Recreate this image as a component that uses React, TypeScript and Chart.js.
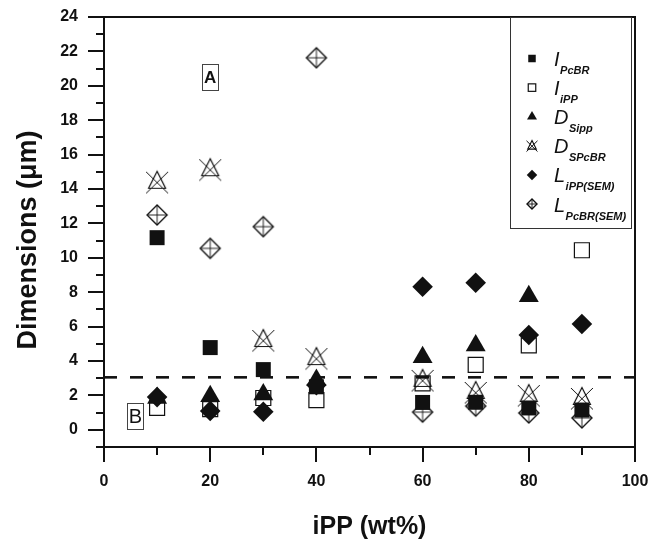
import React, { useEffect, useRef } from 'react';
import { Chart, registerables } from 'chart.js';

Chart.register(...registerables);

// ---------------- data ----------------
const xValues = [10, 20, 30, 40, 60, 70, 80, 90];
const iPcBR = [11.17, 4.78, 3.5, 2.5, 1.59, 1.6, 1.27, 1.15];
const iIPP = [1.27, 1.2, 1.85, 1.73, 2.7, 3.78, 4.91, 10.44];
const dSipp = [1.85, 1.95, 2.05, 2.9, 4.22, 4.9, 7.76, null];
const dSPcBR = [14.42, 15.15, 5.22, 4.17, 2.9, 2.2, 2.02, 1.85];
const lIPPSEM = [1.9, 1.1, 1.05, 2.6, 8.32, 8.55, 5.51, 6.15];
const lPcBRSEM = [12.49, 10.55, 11.81, 21.63, 1.03, 1.38, 0.98, 0.69];

const thresholdX = [0, 100];
const thresholdY = [3.05, 3.05];

const xTickLabels = [0, 20, 40, 60, 80, 100];
const yTickLabels = [0, 2, 4, 6, 8, 10, 12, 14, 16, 18, 20, 22, 24];

const legendMain = ['I', 'I', 'D', 'D', 'L', 'L'];
const legendSub = ['PcBR', 'iPP', 'Sipp', 'SPcBR', 'iPP(SEM)', 'PcBR(SEM)'];
const legendKinds = ['sqFill', 'sqOpen', 'triFill', 'triCross', 'diaFill', 'diaCross'];

const boxLabels = ['A', 'B'];
const boxX = [20, 5.9];
const boxY = [20.5, 0.8];

const yTitle = 'Dimensions (\u03bcm)';
const xTitle = 'iPP (wt%)';

const INK = '#111111';
const FONT = "'Liberation Sans', Arial, sans-serif";

function pts(ys: (number | null)[]) {
  return xValues.map((x, i) => ({ x, y: ys[i] as number })).filter((p) => p.y !== null);
}

function drawMarker(ctx: CanvasRenderingContext2D, kind: string, x: number, y: number, s: number) {
  ctx.save();
  ctx.strokeStyle = INK;
  ctx.fillStyle = INK;
  ctx.lineJoin = 'miter';
  ctx.beginPath();
  if (kind === 'sqFill') {
    ctx.fillRect(x - 7.5 * s, y - 7.5 * s, 15 * s, 15 * s);
  } else if (kind === 'sqOpen') {
    ctx.lineWidth = 1.2;
    ctx.strokeRect(x - 7.5 * s, y - 7.5 * s, 15 * s, 15 * s);
  } else if (kind === 'triFill') {
    ctx.moveTo(x, y - 11.5 * s);
    ctx.lineTo(x + 10 * s, y + 5.8 * s);
    ctx.lineTo(x - 10 * s, y + 5.8 * s);
    ctx.closePath();
    ctx.fill();
  } else if (kind === 'triCross') {
    ctx.lineWidth = 1.2;
    ctx.moveTo(x, y - 10.5 * s);
    ctx.lineTo(x + 8.5 * s, y + 6.5 * s);
    ctx.lineTo(x - 8.5 * s, y + 6.5 * s);
    ctx.closePath();
    ctx.stroke();
    ctx.beginPath();
    ctx.lineWidth = 1;
    ctx.moveTo(x - 11 * s, y - 10 * s);
    ctx.lineTo(x + 11 * s, y + 11.5 * s);
    ctx.moveTo(x + 11 * s, y - 10 * s);
    ctx.lineTo(x - 11 * s, y + 11.5 * s);
    ctx.stroke();
  } else if (kind === 'diaFill') {
    ctx.moveTo(x, y - 10.5 * s);
    ctx.lineTo(x + 10.5 * s, y);
    ctx.lineTo(x, y + 10.5 * s);
    ctx.lineTo(x - 10.5 * s, y);
    ctx.closePath();
    ctx.fill();
  } else if (kind === 'diaCross') {
    ctx.lineWidth = 1.4;
    ctx.moveTo(x, y - 10 * s);
    ctx.lineTo(x + 10 * s, y);
    ctx.lineTo(x, y + 10 * s);
    ctx.lineTo(x - 10 * s, y);
    ctx.closePath();
    ctx.stroke();
    ctx.beginPath();
    ctx.lineWidth = 0.9;
    ctx.moveTo(x, y - 10 * s);
    ctx.lineTo(x, y + 10 * s);
    ctx.moveTo(x - 10 * s, y);
    ctx.lineTo(x + 10 * s, y);
    ctx.stroke();
  }
  ctx.restore();
}

function markerCanvas(kind: string) {
  const c = document.createElement('canvas');
  c.width = 28;
  c.height = 28;
  const ctx = c.getContext('2d')!;
  drawMarker(ctx, kind, 14, 14, 1);
  return c;
}

const decorPlugin = {
  id: 'decor',
  afterDraw(chart: any) {
    const { ctx, chartArea: a, scales } = chart;
    const xs = scales.x;
    const ys = scales.y;
    ctx.save();
    ctx.strokeStyle = INK;
    ctx.lineWidth = 2;
    // top + right frame
    ctx.beginPath();
    ctx.moveTo(a.left, a.top);
    ctx.lineTo(a.right, a.top);
    ctx.lineTo(a.right, a.bottom);
    ctx.stroke();
    // y tick marks
    ys.ticks.forEach((t: any) => {
      const py = Math.round(ys.getPixelForValue(t.value));
      const major = yTickLabels.includes(t.value);
      ctx.beginPath();
      ctx.moveTo(a.left - (major ? 16 : 8), py);
      ctx.lineTo(a.left, py);
      ctx.stroke();
    });
    // x tick marks
    xs.ticks.forEach((t: any) => {
      const px = Math.round(xs.getPixelForValue(t.value));
      const major = xTickLabels.includes(t.value);
      ctx.beginPath();
      ctx.moveTo(px, a.bottom);
      ctx.lineTo(px, a.bottom + (major ? 15 : 8));
      ctx.stroke();
    });

    // y axis title
    ctx.save();
    ctx.translate(29, 240);
    ctx.rotate(-Math.PI / 2);
    ctx.fillStyle = INK;
    ctx.textAlign = 'center';
    ctx.textBaseline = 'middle';
    ctx.font = `bold 27px ${FONT}`;
    ctx.fillText(yTitle, 0, 0);
    ctx.restore();

    // legend
    const lx = 510.5;
    const lw = 121;
    const lh = 211;
    ctx.fillStyle = '#ffffff';
    ctx.fillRect(lx, a.top, lw, lh);
    ctx.lineWidth = 1;
    ctx.strokeStyle = '#333';
    ctx.strokeRect(lx, a.top + 0.5, lw, lh);
    legendMain.forEach((m, i) => {
      const ry = a.top + 41.5 + i * 29.1;
      drawMarker(ctx, legendKinds[i], 532, ry, 0.5);
      ctx.fillStyle = INK;
      ctx.textAlign = 'left';
      ctx.textBaseline = 'alphabetic';
      ctx.font = `italic 20px ${FONT}`;
      ctx.fillText(m, 554, ry + 7.5);
      const w = ctx.measureText(m).width;
      ctx.font = `italic bold 11px ${FONT}`;
      ctx.fillText(legendSub[i], 554 + w + 0.5, ry + 15.5);
    });

    // boxed labels
    boxLabels.forEach((lab, i) => {
      const cx = xs.getPixelForValue(boxX[i]);
      const cy = ys.getPixelForValue(boxY[i]);
      ctx.strokeStyle = '#444';
      ctx.lineWidth = 1;
      ctx.strokeRect(Math.round(cx - 8) + 0.5, Math.round(cy - 13) + 0.5, 16, 26);
      ctx.fillStyle = INK;
      ctx.textAlign = 'center';
      ctx.textBaseline = 'middle';
      ctx.font = i === 0 ? `bold 17px ${FONT}` : `20px ${FONT}`;
      ctx.fillText(lab, cx, cy + 1);
    });
    ctx.restore();
  },
};

export default function App() {
  const ref = useRef<HTMLCanvasElement | null>(null);

  useEffect(() => {
    if (!ref.current) return;
    Chart.defaults.font.family = FONT;
    Chart.defaults.color = INK;
    const triCross = markerCanvas('triCross');
    const diaCross = markerCanvas('diaCross');

    const chart = new Chart(ref.current, {
      type: 'scatter',
      data: {
        datasets: [
          {
            label: 'I_PcBR',
            data: pts(iPcBR),
            pointStyle: 'rect',
            pointRadius: 10.6,
            backgroundColor: INK,
            borderColor: INK,
            borderWidth: 0,
          },
          {
            label: 'D_Sipp',
            data: pts(dSipp),
            pointStyle: 'triangle',
            pointRadius: 11.5,
            backgroundColor: INK,
            borderColor: INK,
            borderWidth: 0,
          },
          {
            label: 'L_iPP(SEM)',
            data: pts(lIPPSEM),
            pointStyle: 'rectRot',
            pointRadius: 10.3,
            backgroundColor: INK,
            borderColor: INK,
            borderWidth: 0,
          },
          {
            label: 'D_SPcBR',
            data: pts(dSPcBR),
            pointStyle: triCross as any,
            pointRadius: 11,
          },
          {
            label: 'L_PcBR(SEM)',
            data: pts(lPcBRSEM),
            pointStyle: diaCross as any,
            pointRadius: 10,
          },
          {
            label: 'I_iPP',
            data: pts(iIPP),
            pointStyle: 'rect',
            pointRadius: 10.6,
            backgroundColor: 'rgba(0,0,0,0)',
            borderColor: INK,
            borderWidth: 1.2,
          },
          {
            label: 'threshold',
            data: thresholdX.map((x, i) => ({ x, y: thresholdY[i] })),
            showLine: true,
            pointRadius: 0,
            borderColor: INK,
            borderWidth: 2.6,
            borderDash: [13, 13],
          } as any,
        ],
      },
      options: {
        responsive: false,
        animation: false,
        events: [],
        layout: { padding: { top: 17, right: 14, left: 0, bottom: 0 } },
        plugins: {
          legend: { display: false },
          tooltip: { enabled: false },
        },
        scales: {
          x: {
            type: 'linear',
            min: 0,
            max: 100,
            grid: { display: false, drawTicks: false },
            border: { display: true, color: INK, width: 2 },
            ticks: {
              stepSize: 10,
              autoSkip: false,
              maxRotation: 0,
              padding: 25,
              color: INK,
              font: { size: 16, weight: 'bold' },
              callback: (v: any) => (xTickLabels.includes(Number(v)) ? String(v) : ''),
            },
            title: {
              display: true,
              text: xTitle,
              color: INK,
              font: { size: 25, weight: 'bold', lineHeight: 1 },
              padding: { top: 0, bottom: 2 },
            },
            afterFit: (s: any) => {
              s.height = 95;
              s.paddingLeft = 0;
              s.paddingRight = 0;
            },
          },
          y: {
            type: 'linear',
            min: -1,
            max: 24,
            grid: { display: false, drawTicks: false },
            border: { display: true, color: INK, width: 2 },
            ticks: {
              stepSize: 1,
              autoSkip: false,
              padding: 26,
              color: INK,
              font: { size: 16, weight: 'bold' },
              callback: (v: any) => (yTickLabels.includes(Number(v)) ? String(v) : ''),
            },
            title: { display: false },
            afterFit: (s: any) => {
              s.width = 104;
              s.paddingTop = 0;
              s.paddingBottom = 0;
            },
          },
        },
      } as any,
      plugins: [decorPlugin],
    });
    return () => chart.destroy();
  }, []);

  return (
    <div style={{ position: 'fixed', left: 0, top: 0, width: 649, height: 542, background: '#fff' }}>
      <canvas ref={ref} width={649} height={542} />
    </div>
  );
}
